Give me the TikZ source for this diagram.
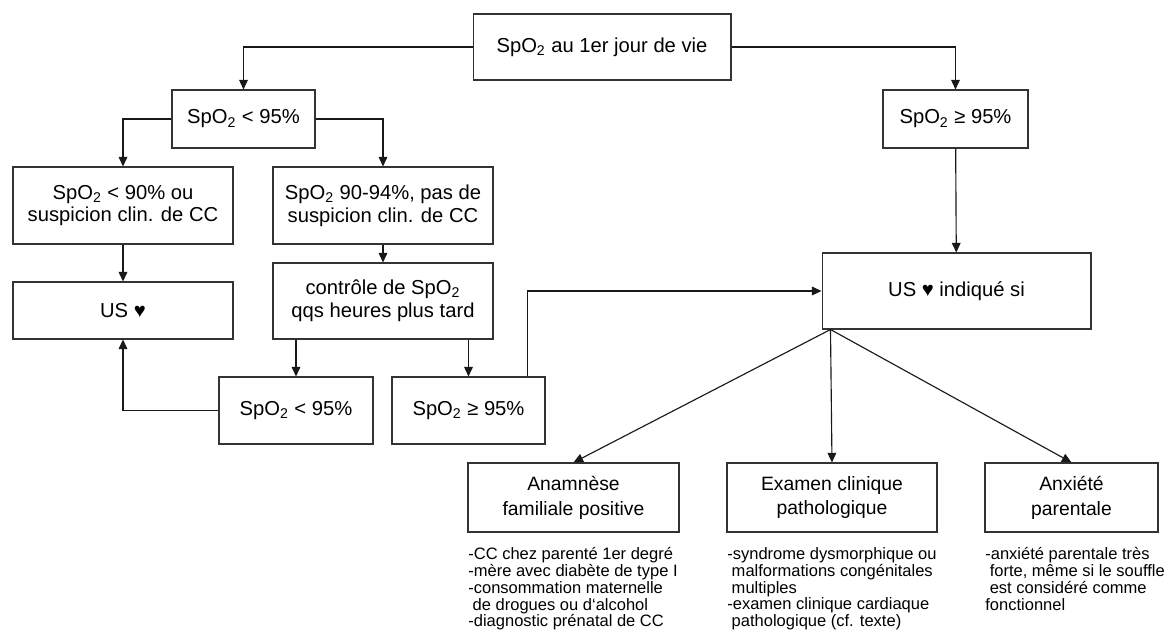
\documentclass[tikz,border=0pt]{standalone}
\usepackage{fontspec}
\setmainfont{Liberation Sans}
\usetikzlibrary{arrows.meta, positioning}

\newcommand{\spo}{SpO\textsubscript{2}}

\begin{document}
\begin{tikzpicture}[x=0.02cm, y=-0.02cm, >={Triangle[length=5.5pt,width=5pt]},
    box/.style={rectangle, draw=black!80, line width=0.6pt, inner sep=0pt, align=center, font=\fontsize{11.5}{13}\selectfont},
    subbox/.style={box, font=\fontsize{11}{14.2}\selectfont},
    listtext/.style={inner sep=0pt, align=left, font=\fontsize{9.4}{9.6}\selectfont},
    link/.style={->, line width=0.65pt, black!90}]
    \useasboundingbox (0,0) rectangle (1171,641);

    % first measure and the two outcomes
    \node[box, minimum width=5.16cm, minimum height=1.32cm] (start) at (602,47) {\spo{} au 1er jour de vie};
    \node[box, minimum width=2.86cm, minimum height=1.16cm] (low) at (243.5,119) {\spo{} < 95\%};
    \node[box, minimum width=2.9cm, minimum height=1.16cm] (high) at (955.5,119) {\spo{} ≥ 95\%};

    % left branch
    \node[box, minimum width=4.4cm, minimum height=1.54cm] (severe) at (123,205.5) {\spo{} < 90\% ou\\suspicion clin. de CC};
    \node[box, minimum width=4.4cm, minimum height=1.54cm] (mild) at (383,205.5) {\spo{} 90-94\%, pas de\\suspicion clin. de CC};
    \node[box, minimum width=4.4cm, minimum height=1.14cm] (echo) at (123,310.5) {US ♥};
    \node[box, minimum width=4.4cm, minimum height=1.52cm] (recheck) at (383,301) {contrôle de \spo\\qqs heures plus tard};
    \node[box, minimum width=3.08cm, minimum height=1.34cm] (relow) at (296,410.5) {\spo{} < 95\%};
    \node[box, minimum width=3.06cm, minimum height=1.34cm] (rehigh) at (468.5,410.5) {\spo{} ≥ 95\%};

    % right branch
    \node[box, minimum width=5.38cm, minimum height=1.52cm] (indic) at (956.5,291) {US ♥ indiqué si};
    \node[subbox, minimum width=4.22cm, minimum height=1.38cm] (family) at (573.5,497.5) {Anamnèse\\familiale positive};
    \node[subbox, minimum width=4.2cm, minimum height=1.38cm] (exam) at (832,497.5) {Examen clinique\\pathologique};
    \node[subbox, minimum width=3.46cm, minimum height=1.38cm] (anxiety) at (1071.5,497.5) {Anxiété\\parentale};

    \node[listtext, anchor=north west] (familylist) at (468,547) {-CC chez parenté 1er degré\\-mère avec diabète de type I\\-consommation maternelle\\\hspace*{2.5pt}de drogues ou d‘alcohol\\-diagnostic prénatal de CC};
    \node[listtext, anchor=north west] (examlist) at (727,547) {-syndrome dysmorphique ou\\\hspace*{2.5pt}malformations congénitales\\\hspace*{2.5pt}multiples\\-examen clinique cardiaque\\\hspace*{2.5pt}pathologique (cf. texte)};
    \node[listtext, anchor=north west] (anxietylist) at (985,547) {-anxiété parentale très\\\hspace*{2.5pt}forte, même si le souffle\\\hspace*{2.5pt}est considéré comme\\fonctionnel};

    \draw[link] (start.west) -| (low);
    \draw[link] (start.east) -| (high);
    \draw[link] (low.west) -| (severe);
    \draw[link] (low.east) -| (mild);
    \draw[link] (severe) -- (echo);
    \draw[link] (mild) -- (recheck);
    \draw[link] (recheck.south -| relow.north) -- (relow.north);
    \draw[link] (recheck.south -| rehigh.north) -- (rehigh.north);
    \draw[link] (relow.west) -| (echo.south);
    \draw[link] (rehigh.30) |- (indic.west);
    \draw[link] (high) -- (indic);

    \draw[link] (indic.197) -- (family.north);
    \draw[link] (indic.197) -- (exam.north);
    \draw[link] (indic.197) -- (anxiety.north);

\end{tikzpicture}
\end{document}
